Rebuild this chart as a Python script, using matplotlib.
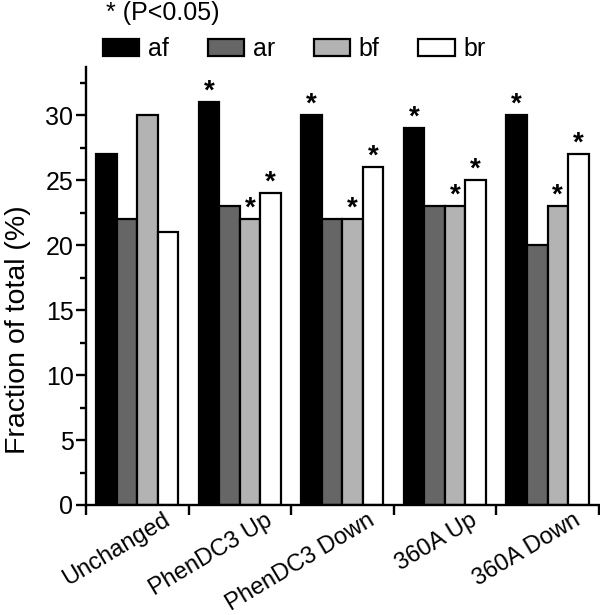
import matplotlib
matplotlib.use("Agg")
import matplotlib.pyplot as plt
import matplotlib.transforms as mtransforms
from matplotlib.patches import Patch
import numpy as np

plt.rcParams['font.family'] = ['Liberation Sans', 'DejaVu Sans']

categories = ["Unchanged", "PhenDC3 Up", "PhenDC3 Down", "360A Up", "360A Down"]
series_names = ["af", "ar", "bf", "br"]
af = [27, 31, 30, 29, 30]
ar = [22, 23, 22, 23, 20]
bf = [30, 22, 22, 23, 23]
br = [21, 24, 26, 25, 27]
# significance flags (1 = asterisk)
af_sig = [0, 1, 1, 1, 1]
ar_sig = [0, 0, 0, 0, 0]
bf_sig = [0, 1, 1, 1, 1]
br_sig = [0, 1, 1, 1, 1]

values = [af, ar, bf, br]
sigs = [af_sig, ar_sig, bf_sig, br_sig]
colors = ["#000000", "#666666", "#b3b3b3", "#ffffff"]

fig = plt.figure(figsize=(6.0, 6.15), dpi=100)
ax = fig.add_axes([86/600, 1 - 505/615, 1 - 86/600 - 0.002, (505 - 67)/615])

x = np.arange(len(categories))
w = 0.2
for i, (vals, sg, c) in enumerate(zip(values, sigs, colors)):
    pos = x + (i - 1.5) * w
    ax.bar(pos, vals, width=w, color=c, edgecolor="black", linewidth=1.6, zorder=2)
    for p, v, s in zip(pos, vals, sg):
        if s:
            ax.annotate("*", (p, v), xytext=(0, -2), textcoords="offset points",
                        ha="center", va="bottom", fontsize=20, fontweight="bold")

ax.set_xlim(-0.5, 4.5)
ax.set_ylim(0, 33.7)

ax.spines["top"].set_visible(False)
ax.spines["right"].set_visible(False)
for s in ["left", "bottom"]:
    ax.spines[s].set_linewidth(1.7)

ax.set_yticks(np.arange(0, 31, 5))
ax.set_yticks(np.arange(2.5, 33, 5), minor=True)
ax.tick_params(axis="y", which="major", length=7, width=1.7, labelsize=18, pad=2)
ax.tick_params(axis="y", which="minor", length=4, width=1.7)

ax.set_xticks(np.arange(-0.5, 4.6, 1.0))
ax.set_xticklabels([])
ax.set_xticks(x, minor=True)
ax.set_xticklabels(categories, minor=True, rotation=31, ha="right",
                   rotation_mode="anchor", fontsize=17)
ax.tick_params(axis="x", which="major", length=7, width=1.7)
ax.tick_params(axis="x", which="minor", length=0, pad=3)
offset = mtransforms.ScaledTranslation(25/100, 0, fig.dpi_scale_trans)
for lbl in ax.xaxis.get_minorticklabels():
    lbl.set_transform(lbl.get_transform() + offset)

ax.set_ylabel("Fraction of total (%)", fontsize=20.5)
ax.yaxis.set_label_coords(-0.108, 0.40)

handles = [Patch(facecolor=c, edgecolor="black", linewidth=1.6) for c in colors]
fig.legend(handles, series_names, loc="center left", ncol=4,
           bbox_to_anchor=(103/600, 1 - 49/615), frameon=False, fontsize=18,
           handlelength=1.45, handleheight=0.7, handletextpad=0.35,
           columnspacing=1.55, borderpad=0, borderaxespad=0)
fig.text(106/600, 1 - 13/615, "* (P<0.05)", fontsize=18, ha="left", va="center")

fig.savefig("out.png", dpi=100)
